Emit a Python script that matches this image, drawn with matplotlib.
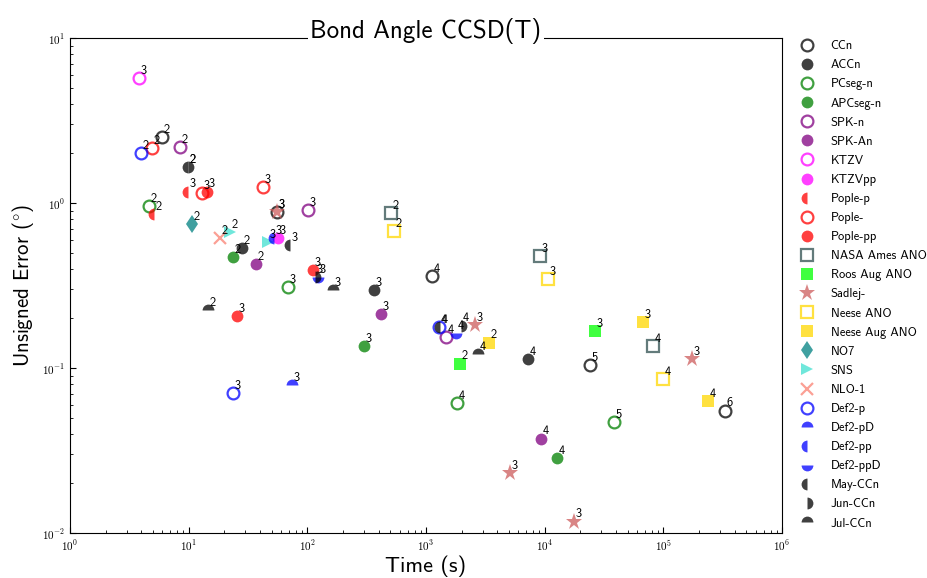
import math
import matplotlib
matplotlib.use('Agg')
import matplotlib.pyplot as plt
from matplotlib.ticker import FuncFormatter, LogLocator

plt.rcParams['font.family'] = ['cmss10', 'DejaVu Sans']
plt.rcParams['mathtext.fontset'] = 'cm'
plt.rcParams['axes.formatter.use_mathtext'] = True

# time (s), unsigned error (deg), zeta label for each basis set family
ccn_t = [5.96, 55.5, 1120, 24100, 331000]
ccn_e = [2.51, 0.88, 0.36, 0.104, 0.055]
ccn_z = [2, 3, 4, 5, 6]

accn_t = [28.1, 365, 7230]
accn_e = [0.533, 0.297, 0.1135]
accn_z = [2, 3, 4]

pcseg_t = [4.63, 68.7, 1824, 38400]
pcseg_e = [0.959, 0.31, 0.0614, 0.0471]
pcseg_z = [2, 3, 4, 5]

apcseg_t = [23.6, 300, 12700]
apcseg_e = [0.471, 0.136, 0.0285]
apcseg_z = [2, 3, 4]

spk_t = [8.45, 101, 1473]
spk_e = [2.18, 0.907, 0.154]
spk_z = [2, 3, 4]

spka_t = [36.9, 418, 9310]
spka_e = [0.427, 0.212, 0.0372]
spka_z = [2, 3, 4]

ktzv_t = [3.81]
ktzv_e = [5.73]
ktzv_z = [3]

ktzvpp_t = [56.6]
ktzvpp_e = [0.614]
ktzvpp_z = [3]

poplep_t = [5.1, 9.87]
poplep_e = [0.857, 1.17]
poplep_z = [2, 3]

pople_t = [4.91, 12.9, 42.3]
pople_e = [2.15, 1.15, 1.25]
pople_z = [2, 3, 3]

poplepp_t = [14.3, 25.5, 112]
poplepp_e = [1.17, 0.206, 0.393]
poplepp_z = [3, 3, 3]

nasa_t = [507, 9140, 81800]
nasa_e = [0.87, 0.477, 0.136]
nasa_z = [2, 3, 4]

roos_t = [1933, 26500]
roos_e = [0.106, 0.1675]
roos_z = [2, 3]

sadlej_t = [55.5, 2588, 5100, 17700, 174000]
sadlej_e = [0.88, 0.182, 0.0231, 0.0117, 0.1135]
sadlej_z = [3, 3, 3, 3, 3]

neese_t = [537, 10670, 99300]
neese_e = [0.676, 0.346, 0.0857]
neese_z = [2, 3, 4]

neeseaug_t = [3397, 67400, 238000]
neeseaug_e = [0.142, 0.19, 0.063]
neeseaug_z = [2, 3, 4]

no7_t = [10.7]
no7_e = [0.746]
no7_z = [2]

sns_t = [22.3, 46.6]
sns_e = [0.667, 0.58]
sns_z = [2, 3]

nlo_t = [18.4]
nlo_e = [0.614]
nlo_z = [2]

def2p_t = [3.97, 23.6, 1286]
def2p_e = [2.01, 0.0705, 0.177]
def2p_z = [2, 3, 4]

def2pd_t = [74.3]
def2pd_e = [0.0789]
def2pd_z = [3]

def2pp_t = [52.4]
def2pp_e = [0.614]
def2pp_z = [3]

def2ppd_t = [123, 1790]
def2ppd_e = [0.356, 0.163]
def2ppd_z = [3, 4]

may_t = [9.87, 71.4, 1310]
may_e = [1.65, 0.556, 0.177]
may_z = [2, 3, 4]

jun_t = [9.87, 116, 1972]
jun_e = [1.65, 0.356, 0.18]
jun_z = [2, 3, 4]

jul_t = [14.6, 164, 2742]
jul_e = [0.225, 0.297, 0.1216]
jul_z = [2, 3, 4]

# name, data, marker, colour, fill style
series = [
    ('CCn', ccn_t, ccn_e, ccn_z, 'o', 'black', 'none'),
    ('ACCn', accn_t, accn_e, accn_z, 'o', 'black', 'full'),
    ('PCseg-n', pcseg_t, pcseg_e, pcseg_z, 'o', 'green', 'none'),
    ('APCseg-n', apcseg_t, apcseg_e, apcseg_z, 'o', 'green', 'full'),
    ('SPK-n', spk_t, spk_e, spk_z, 'o', 'purple', 'none'),
    ('SPK-An', spka_t, spka_e, spka_z, 'o', 'purple', 'full'),
    ('KTZV', ktzv_t, ktzv_e, ktzv_z, 'o', 'magenta', 'none'),
    ('KTZVpp', ktzvpp_t, ktzvpp_e, ktzvpp_z, 'o', 'magenta', 'full'),
    ('Pople-p', poplep_t, poplep_e, poplep_z, 'o', 'red', 'left'),
    ('Pople-', pople_t, pople_e, pople_z, 'o', 'red', 'none'),
    ('Pople-pp', poplepp_t, poplepp_e, poplepp_z, 'o', 'red', 'full'),
    ('NASA Ames ANO', nasa_t, nasa_e, nasa_z, 's', 'darkslategray', 'none'),
    ('Roos Aug ANO', roos_t, roos_e, roos_z, 's', 'lime', 'full'),
    ('Sadlej-', sadlej_t, sadlej_e, sadlej_z, '*', 'indianred', 'full'),
    ('Neese ANO', neese_t, neese_e, neese_z, 's', 'gold', 'none'),
    ('Neese Aug ANO', neeseaug_t, neeseaug_e, neeseaug_z, 's', 'gold', 'full'),
    ('NO7', no7_t, no7_e, no7_z, 'd', 'teal', 'full'),
    ('SNS', sns_t, sns_e, sns_z, '>', 'turquoise', 'full'),
    ('NLO-1', nlo_t, nlo_e, nlo_z, 'x', 'salmon', 'full'),
    ('Def2-p', def2p_t, def2p_e, def2p_z, 'o', 'blue', 'none'),
    ('Def2-pD', def2pd_t, def2pd_e, def2pd_z, 'o', 'blue', 'top'),
    ('Def2-pp', def2pp_t, def2pp_e, def2pp_z, 'o', 'blue', 'left'),
    ('Def2-ppD', def2ppd_t, def2ppd_e, def2ppd_z, 'o', 'blue', 'bottom'),
    ('May-CCn', may_t, may_e, may_z, 'o', 'black', 'left'),
    ('Jun-CCn', jun_t, jun_e, jun_z, 'o', 'black', 'right'),
    ('Jul-CCn', jul_t, jul_e, jul_z, 'o', 'black', 'top'),
]

fig = plt.figure(figsize=(9.27, 5.78), dpi=100)
ax = fig.add_axes([70 / 927, 1 - 533 / 578, 712 / 927, 495 / 578])

for name, t, e, z, mk, col, fs in series:
    ms = 8.5
    if mk == '*':
        ms = 12.5
    elif mk == 'd':
        ms = 9.5
    if fs == 'none':
        ax.plot(t, e, ls='none', marker=mk, ms=ms, mfc='none', mec=col,
                mew=1.6, alpha=0.75, label=name)
    elif fs == 'full':
        mew = 1.6 if mk == 'x' else 0
        ax.plot(t, e, ls='none', marker=mk, ms=ms, mfc=col, mec=col,
                mew=mew, alpha=0.75, label=name)
    else:
        ax.plot(t, e, ls='none', marker=mk, ms=ms, fillstyle=fs, mfc=col,
                mfcalt='none', mec='none', mew=0, alpha=0.75, label=name)
    for ti, ei, zi in zip(t, e, z):
        ax.annotate(str(zi), (ti, ei), xytext=(1, 1), textcoords='offset points',
                    fontsize=9, ha='left', va='bottom')

ax.set_xscale('log')
ax.set_yscale('log')
ax.set_xlim(1, 1e6)
ax.set_ylim(1e-2, 10)

fmt = FuncFormatter(lambda v, p: r'$10^{%d}$' % round(math.log10(v)))
ax.xaxis.set_major_formatter(fmt)
ax.yaxis.set_major_formatter(fmt)
ax.xaxis.set_major_locator(LogLocator(base=10, numticks=10))
ax.tick_params(which='both', direction='in', labelsize=8, top=False, right=False)
ax.tick_params(which='major', length=4)
ax.tick_params(which='minor', length=2.5)

ax.set_xlabel('Time (s)', fontsize=16, labelpad=2)
ax.set_ylabel(r'Unsigned Error ($^{\circ}$)', fontsize=15)
ax.text(0.5, 1.0, 'Bond Angle CCSD(T)', transform=ax.transAxes, ha='center',
        va='baseline', fontsize=18,
        bbox=dict(facecolor='white', edgecolor='none', pad=2))

ax.legend(loc='upper left', bbox_to_anchor=(1.012, 1.013), frameon=False,
          numpoints=1, fontsize=9, handlelength=1.2, handletextpad=1.3,
          labelspacing=0.567, borderaxespad=0.3)

fig.savefig('out.png', dpi=100)
